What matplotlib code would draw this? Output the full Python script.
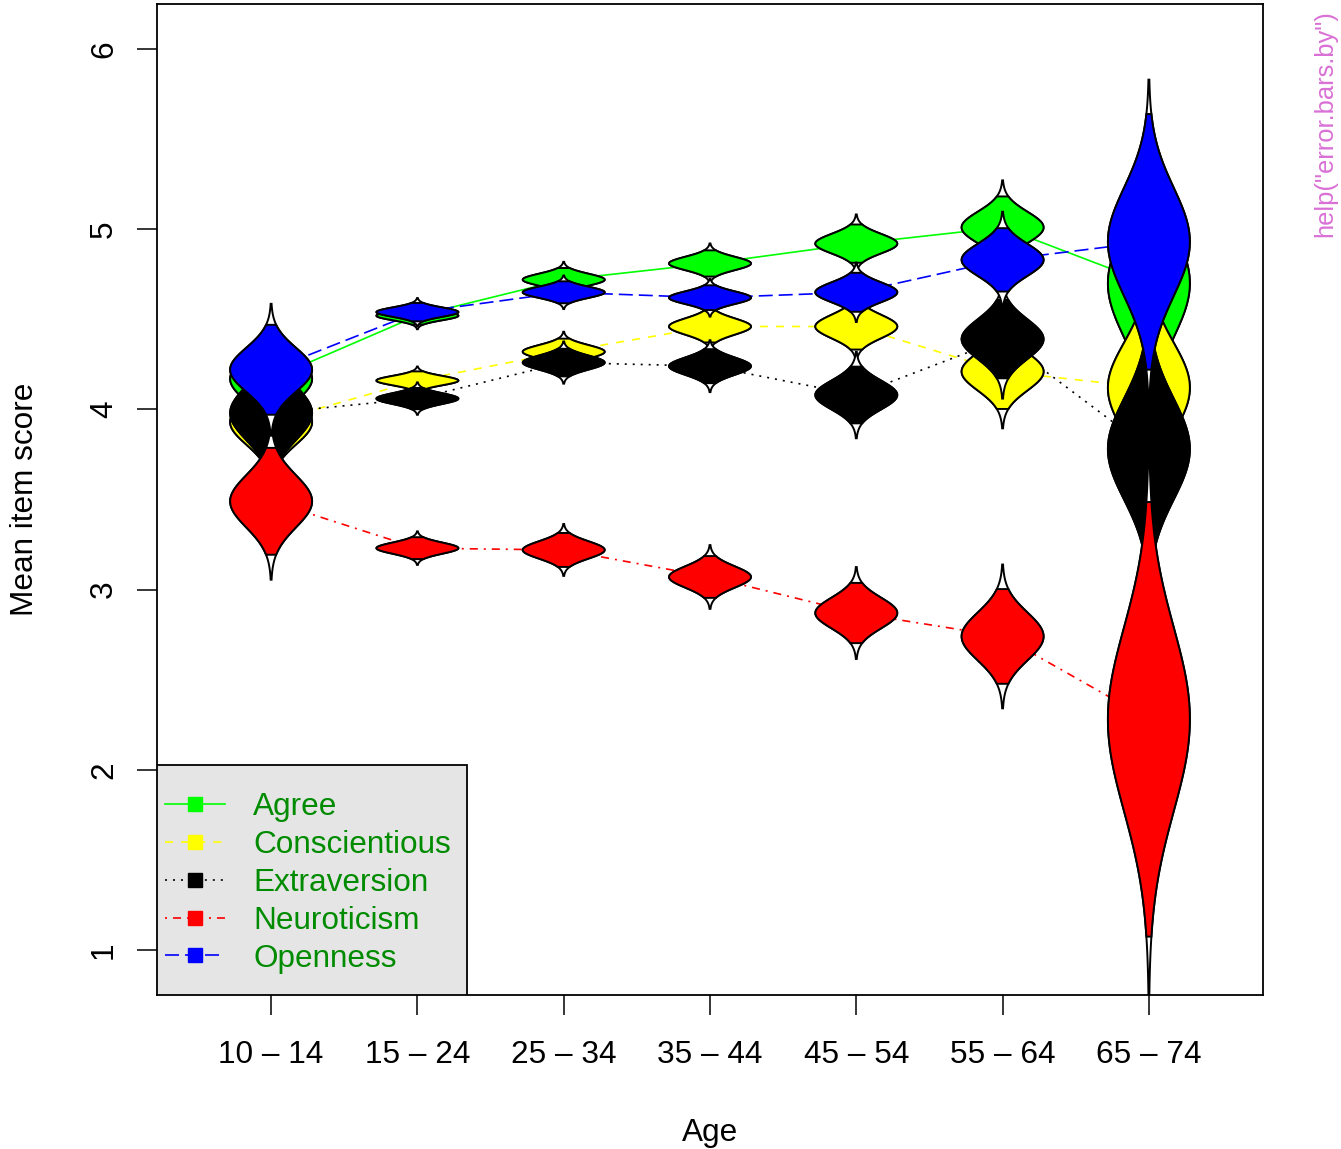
import numpy as np
import matplotlib
matplotlib.use("Agg")
import matplotlib.pyplot as plt
from matplotlib.lines import Line2D
from matplotlib.patches import Rectangle

# ---------------- data ----------------
age_groups = ["10 – 14", "15 – 24", "25 – 34", "35 – 44", "45 – 54", "55 – 64", "65 – 74"]
n_by_age = [30, 900, 600, 450, 350, 150, 8]

traits = ["Agree", "Conscientious", "Extraversion", "Neuroticism", "Openness"]

agree_mean = [4.17, 4.52, 4.72, 4.81, 4.92, 5.01, 4.70]
consc_mean = [3.93, 4.16, 4.32, 4.46, 4.46, 4.21, 4.12]
extra_mean = [3.98, 4.06, 4.26, 4.24, 4.08, 4.39, 3.78]
neuro_mean = [3.49, 3.23, 3.22, 3.07, 2.87, 2.74, 2.28]
open_mean = [4.22, 4.54, 4.65, 4.62, 4.65, 4.83, 4.93]

agree_se = [0.125, 0.025, 0.033, 0.037, 0.054, 0.087, 0.30]
consc_se = [0.125, 0.026, 0.037, 0.045, 0.065, 0.105, 0.25]
extra_se = [0.150, 0.030, 0.039, 0.048, 0.080, 0.110, 0.28]
neuro_se = [0.145, 0.031, 0.048, 0.059, 0.085, 0.133, 0.51]
open_se = [0.122, 0.026, 0.031, 0.035, 0.055, 0.089, 0.30]

y_ticks = [1, 2, 3, 4, 5, 6]

means = [agree_mean, consc_mean, extra_mean, neuro_mean, open_mean]
ses = [agree_se, consc_se, extra_se, neuro_se, open_se]
colors = ["#00FF00", "#FFFF00", "#000000", "#FF0000", "#0000FF"]
# R lty 1..5 (dash lengths in points)
dashes = [None, (5.8, 5.8), (1.44, 4.3), (1.44, 4.3, 5.8, 4.3), (10.1, 4.3)]

plt.rcParams["font.family"] = ["Liberation Sans", "DejaVu Sans"]
plt.rcParams["lines.scale_dashes"] = False


def t_crit(df, p=0.95):
    t = np.linspace(0, 80, 400001)
    pdf = (1 + t ** 2 / df) ** (-(df + 1) / 2)
    cdf = np.concatenate([[0], np.cumsum((pdf[1:] + pdf[:-1]) / 2 * np.diff(t))])
    cdf /= cdf[-1]
    return float(np.interp(p, cdf, t))


fig = plt.figure(figsize=(13.41, 11.49), dpi=100)
ax = fig.add_axes([157 / 1341, 1 - 995 / 1149, (1263 - 157) / 1341, (995 - 4) / 1149])

x = np.arange(1, len(age_groups) + 1)
crit = [t_crit(n - 1) for n in n_by_age]

# connecting lines (under the eyes)
for k in range(len(traits)):
    ls = "-" if dashes[k] is None else (0, dashes[k])
    ax.plot(x, means[k], color=colors[k], lw=1.2, linestyle=ls, zorder=1)

# cats eyes
HALF_W = 0.28
T_RANGE = 3.0
z = 2
for k in range(len(traits)):
    for i in range(len(age_groups)):
        m, se, c = means[k][i], ses[k][i], crit[i]
        t = np.linspace(-T_RANGE, T_RANGE, 301)
        w = HALF_W * np.exp(-t ** 2 / 2)
        xs = np.concatenate([x[i] - w, (x[i] + w)[::-1]])
        ys = np.concatenate([m + t * se, (m + t * se)[::-1]])
        ax.fill(xs, ys, facecolor="white", edgecolor="black", lw=1.4, zorder=z)
        tc = np.linspace(-c, c, 301)
        wc = HALF_W * np.exp(-tc ** 2 / 2)
        xs = np.concatenate([x[i] - wc, (x[i] + wc)[::-1]])
        ys = np.concatenate([m + tc * se, (m + tc * se)[::-1]])
        ax.fill(xs, ys, facecolor=colors[k], edgecolor="black", lw=1.4, zorder=z + 1)
        z += 2

ax.set_xlim(0.22, 7.78)
ax.set_ylim(0.75, 6.25)
ax.set_xticks(x)
ax.set_xticklabels(age_groups)
ax.set_yticks(y_ticks)
ax.set_yticklabels([str(v) for v in y_ticks])
for lab in ax.get_yticklabels():
    lab.set_rotation(90)
    lab.set_va("center")
    lab.set_ha("right")
ax.tick_params(axis="both", labelsize=22.7, length=14.4, width=1.1)
ax.tick_params(axis="x", pad=18.3)
ax.tick_params(axis="y", pad=13)
for s in ax.spines.values():
    s.set_linewidth(1.3)

ax.set_xlabel("Age", fontsize=22.7)
ax.xaxis.set_label_coords(0.5, -0.139)
ax.xaxis.label.set_va("center")
ax.set_ylabel("Mean item score", fontsize=22.7)
ax.yaxis.set_label_coords(-0.1195, 0.5)
ax.yaxis.label.set_va("center")

# legend box
box = Rectangle((0, 0), 310 / 1106, 230 / 991, transform=ax.transAxes,
                facecolor="#E5E5E5", edgecolor="black", lw=1.3, zorder=99)
ax.add_patch(box)

handles = []
for k in range(len(traits)):
    ls = "-" if dashes[k] is None else (0, dashes[k])
    handles.append(Line2D([0], [0], color=colors[k], lw=1.2, linestyle=ls,
                          marker="s", markersize=10.5, markerfacecolor=colors[k],
                          markeredgecolor=colors[k]))
leg = ax.legend(handles, traits, loc="upper left",
                bbox_to_anchor=(8 / 1106, (995 - 792) / 991),
                borderaxespad=0, borderpad=0, fontsize=22.7, labelcolor="#008B00",
                frameon=False, handlelength=1.9,
                handletextpad=0.9, labelspacing=0.25)
leg.set_zorder(100)

fig.text(1325 / 1341, 1 - 10 / 1149, 'help("error.bars.by")', rotation=90,
         ha="center", va="top", fontsize=18.4, color="#DA70D6")

fig.savefig("out.png", dpi=100)
